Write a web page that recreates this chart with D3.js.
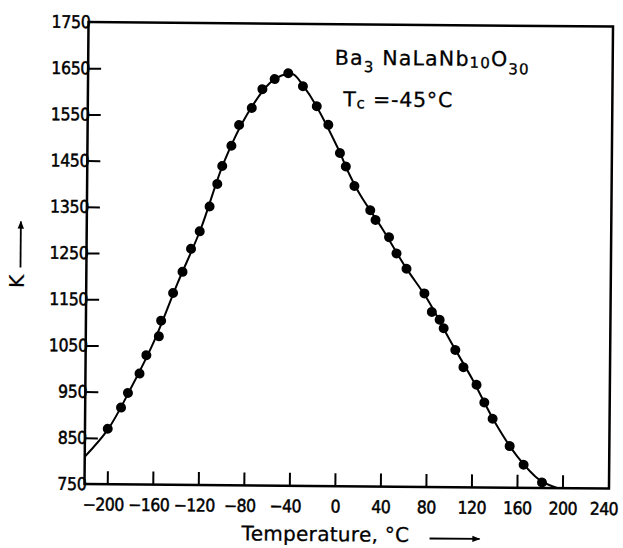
<!DOCTYPE html>
<html>
<head>
<meta charset="utf-8">
<script src="https://cdn.jsdelivr.net/npm/d3@7"></script>
<style>
  html, body { margin: 0; padding: 0; background: #fff; }
  svg { display: block; }
</style>
</head>
<body>
<svg id="chart" width="623" height="548"></svg>
<script>
// ---- data ----
const tempC = [-200, -188.5, -182.5, -172.5, -166.6, -155.8, -153.9, -143.6, -135.5, -128.2,
  -120.7, -112.2, -105.6, -101.4, -93.5, -86.9, -75.9, -66.7, -56, -44.1,
  -31.1, -18.8, -8.5, 1.9, 7.2, 14.9, 29, 33.7, 45.7, 52.4,
  61.3, 77.2, 83.9, 90.8, 94.4, 104.8, 112.1, 123.7, 130.7, 138.1,
  153.3, 165.7, 182];
const kValues = [870, 916, 948, 990, 1030, 1071, 1105, 1165, 1211, 1261,
  1299, 1353, 1402, 1441, 1485, 1530, 1567, 1608, 1630, 1643,
  1615, 1572, 1532, 1471, 1442, 1400, 1348, 1327, 1290, 1255,
  1222, 1169, 1129, 1112, 1094, 1047, 1010, 972, 934, 899,
  840, 800, 762];
// fitted curve
const curveT = [-220, -200, -180, -160, -140, -120, -100, -80, -60, -50, -40, -30, -20, 0, 10, 20, 40, 60, 80, 100, 120, 140, 160, 180, 196];
const curveK = [809, 868, 958, 1060, 1185, 1303, 1449, 1553, 1622, 1638, 1641, 1613, 1576, 1482, 1427, 1381, 1307, 1227, 1156, 1068, 984, 892, 818, 767, 750];
const xTickValues = [-200, -160, -120, -80, -40, 0, 40, 80, 120, 160, 200, 240];
const yTickValues = [750, 850, 950, 1050, 1150, 1250, 1350, 1450, 1550, 1650, 1750];
const xTitle = "Temperature, °C";
const yTitle = "K";

// ---- drawing ----
const svg = d3.select("#chart");
svg.append("rect").attr("width", 623).attr("height", 548).attr("fill", "#fff");
const g = svg.append("g").attr("transform", "rotate(0.5 85 484)");

const x = d3.scaleLinear().domain([-220, 240]).range([84.5, 608]);
const y = d3.scaleLinear().domain([750, 1750]).range([484, 22]);
const numFont = "'DejaVu Sans Condensed', 'Liberation Sans Narrow', sans-serif";
const txtFont = "'DejaVu Sans', sans-serif";
const fmt = d => d < 0 ? "\u2212" + Math.abs(d) : String(d);

// frame
g.append("rect")
  .attr("x", x(-220)).attr("y", y(1750))
  .attr("width", 609 - x(-220)).attr("height", y(750) - y(1750))
  .attr("fill", "none").attr("stroke", "#000").attr("stroke-width", 2.5);

// y axis
const yAxis = g.append("g").attr("transform", `translate(${x(-220)},0)`)
  .call(d3.axisLeft(y).tickValues(yTickValues).tickFormat(fmt).tickSize(-13).tickPadding(-2).tickSizeOuter(0));
yAxis.select(".domain").remove();
yAxis.selectAll(".tick line").attr("stroke", "#000").attr("stroke-width", 2)
  .attr("display", d => (d === 750 || d === 1750) ? "none" : null);
yAxis.selectAll(".tick text").attr("fill", "#000").attr("font-family", numFont)
  .attr("font-size", 17.5).attr("letter-spacing", -0.3)
  .attr("stroke", "#000").attr("stroke-width", 0.45);

// x axis
const xAxis = g.append("g").attr("transform", `translate(0,${y(750)})`)
  .call(d3.axisBottom(x).tickValues(xTickValues).tickFormat(fmt).tickSize(-13).tickPadding(14).tickSizeOuter(0));
xAxis.select(".domain").remove();
xAxis.selectAll(".tick line").attr("stroke", "#000").attr("stroke-width", 2)
  .attr("display", d => d === 240 ? "none" : null);
xAxis.selectAll(".tick text").attr("fill", "#000").attr("font-family", numFont)
  .attr("font-size", 17.5).attr("letter-spacing", -0.6)
  .attr("stroke", "#000").attr("stroke-width", 0.45)
  .attr("dx", d => d < 0 ? "-0.25em" : (d === 240 ? "-0.25em" : 0));

// curve
const line = d3.line().x(d => x(d[0])).y(d => y(d[1])).curve(d3.curveCatmullRom.alpha(0.5));
g.append("path").datum(curveT.map((t, i) => [t, curveK[i]]))
  .attr("d", line).attr("fill", "none").attr("stroke", "#000").attr("stroke-width", 2);

// points
g.append("g").selectAll("circle").data(tempC.map((t, i) => [t, kValues[i]]))
  .join("circle").attr("cx", d => x(d[0])).attr("cy", d => y(d[1])).attr("r", 5).attr("fill", "#000");

// arrow marker
svg.append("defs").append("marker").attr("id", "arr")
  .attr("viewBox", "0 0 10 10").attr("refX", 9).attr("refY", 5)
  .attr("markerWidth", 10).attr("markerHeight", 8).attr("markerUnits", "userSpaceOnUse")
  .attr("orient", "auto")
  .append("path").attr("d", "M0,1 L10,5 L0,9 Z").attr("fill", "#000");

// y title
g.append("text").attr("transform", "translate(22,282) rotate(-90)")
  .attr("text-anchor", "middle").attr("font-family", txtFont).attr("font-size", 20)
  .attr("stroke", "#000").attr("stroke-width", 0.3).text(yTitle);
g.append("line").attr("x1", 18.6).attr("x2", 18.6).attr("y1", 268).attr("y2", 222)
  .attr("stroke", "#000").attr("stroke-width", 1.8).attr("marker-end", "url(#arr)");

// x title
g.append("text").attr("x", 242).attr("y", 539).attr("font-family", txtFont).attr("font-size", 20)
  .attr("letter-spacing", 0.3).attr("stroke", "#000").attr("stroke-width", 0.3).text(xTitle);
g.append("line").attr("x1", 430).attr("x2", 480).attr("y1", 535.5).attr("y2", 535.5)
  .attr("stroke", "#000").attr("stroke-width", 1.8).attr("marker-end", "url(#arr)");

// annotation
const ann = g.append("text").attr("x", 331).attr("y", 62.5).attr("font-family", txtFont)
  .attr("font-size", 20.5).attr("letter-spacing", 1.2).attr("stroke", "#000").attr("stroke-width", 0.3);
ann.append("tspan").text("Ba");
ann.append("tspan").attr("dy", 7).attr("font-size", 15).text("3");
ann.append("tspan").attr("dy", -7).text(" NaLaNb");
ann.append("tspan").attr("dy", 2).attr("font-size", 15).text("10");
ann.append("tspan").attr("dy", -2).text("O");
ann.append("tspan").attr("dy", 8).attr("font-size", 15).text("30");

const tc = g.append("text").attr("x", 340).attr("y", 104).attr("font-family", txtFont)
  .attr("font-size", 20.5).attr("letter-spacing", 0.8).attr("stroke", "#000").attr("stroke-width", 0.3);
tc.append("tspan").text("T");
tc.append("tspan").attr("dy", 2).attr("font-size", 15).text("c");
tc.append("tspan").attr("dy", -2).text(" =-45°C");
</script>
</body>
</html>
